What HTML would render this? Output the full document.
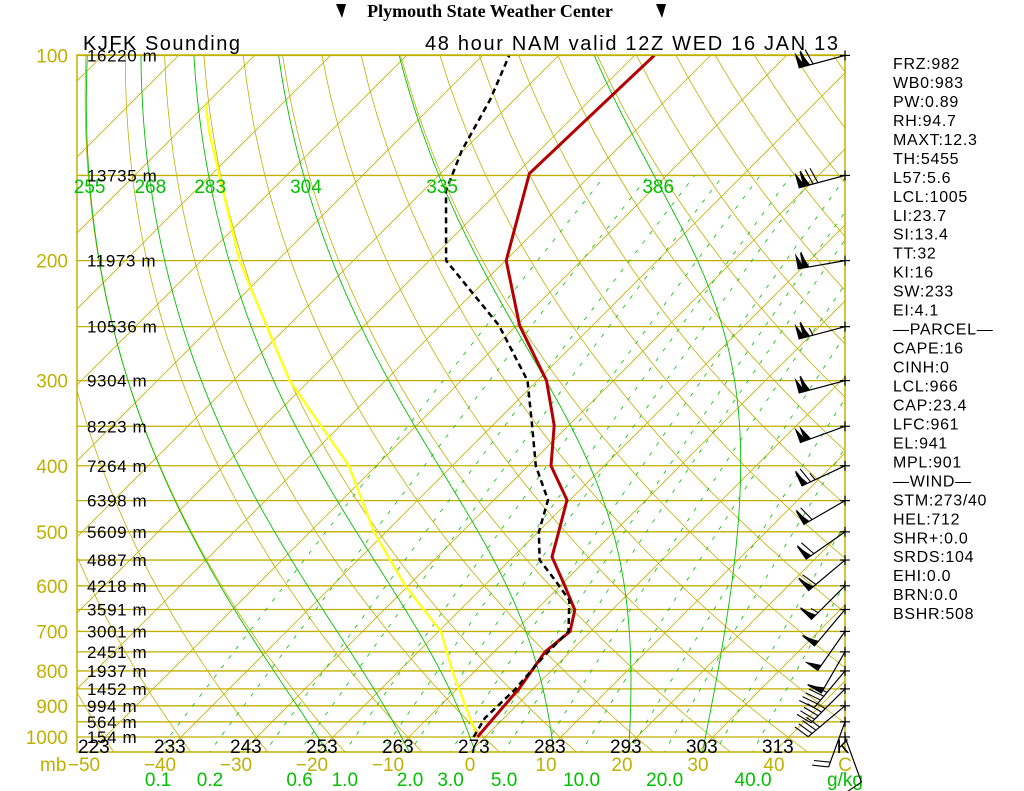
<!DOCTYPE html>
<html><head><meta charset="utf-8"><style>
html,body{margin:0;padding:0;background:#fff;width:1024px;height:791px;overflow:hidden}
svg{display:block}
</style></head><body>
<svg id="chart" width="1024" height="791" xmlns="http://www.w3.org/2000/svg" font-family="Liberation Sans, sans-serif">
<rect width="1024" height="791" fill="#fff"/>
<g>
<path d="M336 4 l10 0 l-4 14 z" fill="#000"/>
<text x="490" y="17" text-anchor="middle" font-family="Liberation Serif, serif" font-weight="bold" font-size="18">Plymouth State Weather Center</text>
<path d="M656 4 l10 0 l-4 14 z" fill="#000"/>
</g>
<text x="83" y="50" font-size="20" textLength="157" lengthAdjust="spacing">KJFK Sounding</text>
<text x="425" y="50" font-size="20" textLength="413" lengthAdjust="spacing">48 hour NAM valid 12Z WED 16 JAN 13</text>
<defs><clipPath id="pc"><rect x="77" y="55" width="768" height="697"/></clipPath></defs>
<g id="grid" clip-path="url(#pc)"></g>
<g id="series" clip-path="url(#pc)"></g>
<rect x="77" y="55" width="768" height="697" fill="none" stroke="#c0b000" stroke-width="1.5"/>
<g id="labels"></g>
<g id="barbs"></g>
<g id="stats"></g>
</svg>
<script>
const tempP=[1000,847,750,700,651,600,544,500,449,400,349,300,249,200,149,100];
const tempT=[-1,-1.9,-3.3,-2.7,-4.9,-9.4,-14.9,-17.3,-20.4,-27,-31.9,-38.8,-49.6,-59.9,-68.3,-67.4];
const dewP=[1000,938,853,758,700,630,588,550,500,449,400,349,300,249,200,158,138,116,100];
const dewT=[-1.5,-2.5,-2.3,-2.9,-2.9,-6.9,-11.5,-16.1,-19.9,-22.9,-29,-34.8,-41.3,-52.3,-67.8,-77,-80.2,-83.2,-86.5];
const parcelP=[1000,900,800,700,600,500,400,300,200,130,118];
const parcelT=[-1,-6.7,-13,-19.7,-30.4,-41.6,-53.6,-72.6,-95,-115.7,-120];
const isobars=[100,150,200,250,300,350,400,450,500,550,600,650,700,750,800,850,900,950,1000];
const pressLabels=[100,200,300,400,500,600,700,800,900,1000];
const heights=["16220 m","13735 m","11973 m","10536 m","9304 m","8223 m","7264 m","6398 m","5609 m","4887 m","4218 m","3591 m","3001 m","2451 m","1937 m","1452 m","994 m","564 m","154 m"];
const tempTicks=[-50,-40,-30,-20,-10,0,10,20,30,40];
const thetaTicks=[223,233,243,253,263,273,283,293,303,313];
const mixLabels=[0.1,0.2,0.6,1.0,2.0,3.0,5.0,10.0,20.0,40.0];
const mixExtra=[0.4,1.5,4,7,15,30];
const moistStart=[-22,-11,-2,8.8,19,29];
const moistLabels=["255","268","283","304","335","386"];
const windP=[100,150,200,250,300,350,400,450,500,550,600,650,700,750,800,850,900,950,1000];
const windDir=[255,255,260,255,255,250,245,240,235,230,225,220,215,210,220,225,230,200,160];
const windSpd=[120,130,110,115,110,100,75,70,70,70,65,60,55,60,45,45,40,20,10];
const stats=["FRZ:982","WB0:983","PW:0.89","RH:94.7","MAXT:12.3","TH:5455","L57:5.6","LCL:1005","LI:23.7","SI:13.4","TT:32","KI:16","SW:233","EI:4.1","\u2014PARCEL\u2014","CAPE:16","CINH:0","LCL:966","CAP:23.4","LFC:961","EL:941","MPL:901","\u2014WIND\u2014","STM:273/40","HEL:712","SHR+:0.0","SRDS:104","EHI:0.0","BRN:0.0","BSHR:508"];

const NS="http://www.w3.org/2000/svg";
const Y=p=>737-296*Math.log(1000/p);
const X=(T,p)=>470+7.6*T+(752-Y(p));
function el(parent,tag,attrs){const e=document.createElementNS(NS,tag);for(const k in attrs)e.setAttribute(k,attrs[k]);parent.appendChild(e);return e;}
function poly(parent,pts,stroke,w,dash,name){
  const e=el(parent,'polyline',{points:pts.map(q=>q[0].toFixed(1)+','+q[1].toFixed(1)).join(' '),fill:'none',stroke:stroke,'stroke-width':w});
  if(dash)e.setAttribute('stroke-dasharray',dash);
  
  
  return e;
}
const grid=document.getElementById('grid'),ser=document.getElementById('series'),lab=document.getElementById('labels');
const YEL='#c0b000',GRN='#00c000';
isobars.forEach(p=>{const l=el(grid,'line',{x1:77,x2:845,y1:Y(p),y2:Y(p),stroke:YEL,'stroke-width':1.3});

});
for(let T=-160;T<=50;T+=10){const pts=[[X(T,1060),Y(1060)],[X(T,95),Y(95)]];poly(grid,pts,YEL,0.8,null,'isotherm');}
for(let th=213;th<=523;th+=10){const pts=[];for(let p=1060;p>=95;p-=10){pts.push([X(th*Math.pow(p/1000,0.286)-273.15,p),Y(p)]);}poly(grid,pts,YEL,0.8,null,'dry-adiabat');}
function tdFromW(w,p){const r=w/1000;const e=r*p/(0.622+r);const a=Math.log(e/6.112);return 243.5*a/(17.67-a);}
mixLabels.concat(mixExtra).forEach(w=>{const pts=[];for(let p=1060;p>=150;p-=10)pts.push([X(tdFromW(w,p),p),Y(p)]);poly(grid,pts,GRN,0.8,'4,8','mixing-ratio-line');});
function moist(T0){const pts=[];let T=T0+273.15;let p=1000;const step=-2;
  const f=(T,p)=>{const Tc=T-273.15;const es=6.112*Math.exp(17.67*Tc/(Tc+243.5));const rs=0.622*es/(p-es);return (287*T+2.5e6*rs)/(p*(1004+2.5e6*2.5e6*rs*0.622/(287*T*T)));};
  let Tb=T,pb=1000;const low=[];while(pb<1060){Tb+=f(Tb,pb)*2;pb+=2;low.push([X(Tb-273.15,pb),Y(pb)]);}
  low.reverse().forEach(q=>pts.push(q));
  while(p>95){pts.push([X(T-273.15,p),Y(p)]);T+=f(T,p)*step;p+=step;}
  return pts;}
moistStart.forEach((t,i)=>{const pts=moist(t);poly(grid,pts,GRN,0.9,null,'moist-adiabat');
  let q=pts.reduce((a,b)=>Math.abs(b[1]-185)<Math.abs(a[1]-185)?b:a);
  const t2=el(lab,'text',{x:Math.max(78,q[0]),y:193,'font-size':19,fill:GRN,'text-anchor':'middle'});t2.textContent=moistLabels[i];
  
  });
poly(ser,parcelP.map((p,i)=>[X(parcelT[i],p),Y(p)]),'#ffff20',2.5,null,'parcel-line');
poly(ser,tempP.map((p,i)=>[X(tempT[i],p),Y(p)]),'#b40000',3,null,'temperature-line');
poly(ser,dewP.map((p,i)=>[X(dewT[i],p),Y(p)]),'#000',2.5,'6,4','dewpoint-line');
pressLabels.forEach(p=>{const t=el(lab,'text',{x:68,y:Y(p)+7,'font-size':19,fill:YEL,'text-anchor':'end'});t.textContent=p;

});
isobars.forEach((p,i)=>{const t=el(lab,'text',{x:87,y:Y(p)+6,'font-size':17,fill:'#000','letter-spacing':0.6});t.textContent=heights[i];

});
tempTicks.forEach(T=>{const t=el(lab,'text',{x:470+7.6*T-(T<0?6:0),y:771,'font-size':19,fill:YEL,'text-anchor':'middle'});t.textContent=T<0?'\u2212'+(-T):T;

});
{const t=el(lab,'text',{x:845,y:771,'font-size':19,fill:YEL,'text-anchor':'middle'});t.textContent='C';

}
{const t=el(lab,'text',{x:40,y:771,'font-size':19,fill:YEL});t.textContent='mb';

}
thetaTicks.forEach(th=>{const t=el(lab,'text',{x:X(th-273.15,1000)-10,y:753,'font-size':19,fill:'#000','text-anchor':'middle'});t.textContent=th;

});
{const t=el(lab,'text',{x:843,y:753,'font-size':19,fill:'#000','text-anchor':'middle'});t.textContent='K';

}
mixLabels.forEach(w=>{const t=el(lab,'text',{x:X(tdFromW(w,1050),1050),y:786,'font-size':19,fill:GRN,'text-anchor':'middle'});t.textContent=w.toFixed(1);

});
{const t=el(lab,'text',{x:845,y:786,'font-size':19,fill:GRN,'text-anchor':'middle'});t.textContent='g/kg';

}
const bg=document.getElementById('barbs');
windP.forEach((p,i)=>{const y=Y(p),x=845;const a=windDir[i]*Math.PI/180;const dx=Math.sin(a),dy=-Math.cos(a);const L=48;
  const g=el(bg,'g',{});
  
  el(g,'line',{x1:x-5,x2:x+5,y1:y,y2:y,stroke:'#000','stroke-width':1.2});
  el(g,'line',{x1:x,x2:x,y1:y-5,y2:y+5,stroke:'#000','stroke-width':1.2});
  el(g,'line',{x1:x,y1:y,x2:x+dx*L,y2:y+dy*L,stroke:'#000','stroke-width':1.2});
  let s=windSpd[i],pos=L;const px=-dy,py=dx;
  while(s>=50){const ax=x+dx*pos,ay=y+dy*pos,bx=x+dx*(pos-7),by=y+dy*(pos-7);
    el(g,'polygon',{points:`${ax},${ay} ${bx},${by} ${ax+px*16},${ay+py*16}`,fill:'#000'});pos-=5;s-=50;}
  while(s>=10){const ax=x+dx*pos,ay=y+dy*pos;el(g,'line',{x1:ax,y1:ay,x2:ax+px*16+dx*4,y2:ay+py*16+dy*4,stroke:'#000','stroke-width':1.1});pos-=5;s-=10;}
  if(s>=5){const ax=x+dx*pos,ay=y+dy*pos;el(g,'line',{x1:ax,y1:ay,x2:ax+px*8+dx*2,y2:ay+py*8+dy*2,stroke:'#000','stroke-width':1.1});}
});
const sg=document.getElementById('stats');
stats.forEach((s,i)=>{const t=el(sg,'text',{x:893,y:69+i*18.97,'font-size':16,fill:'#000','letter-spacing':0.7});t.textContent=s;

});
</script>
</body></html>
